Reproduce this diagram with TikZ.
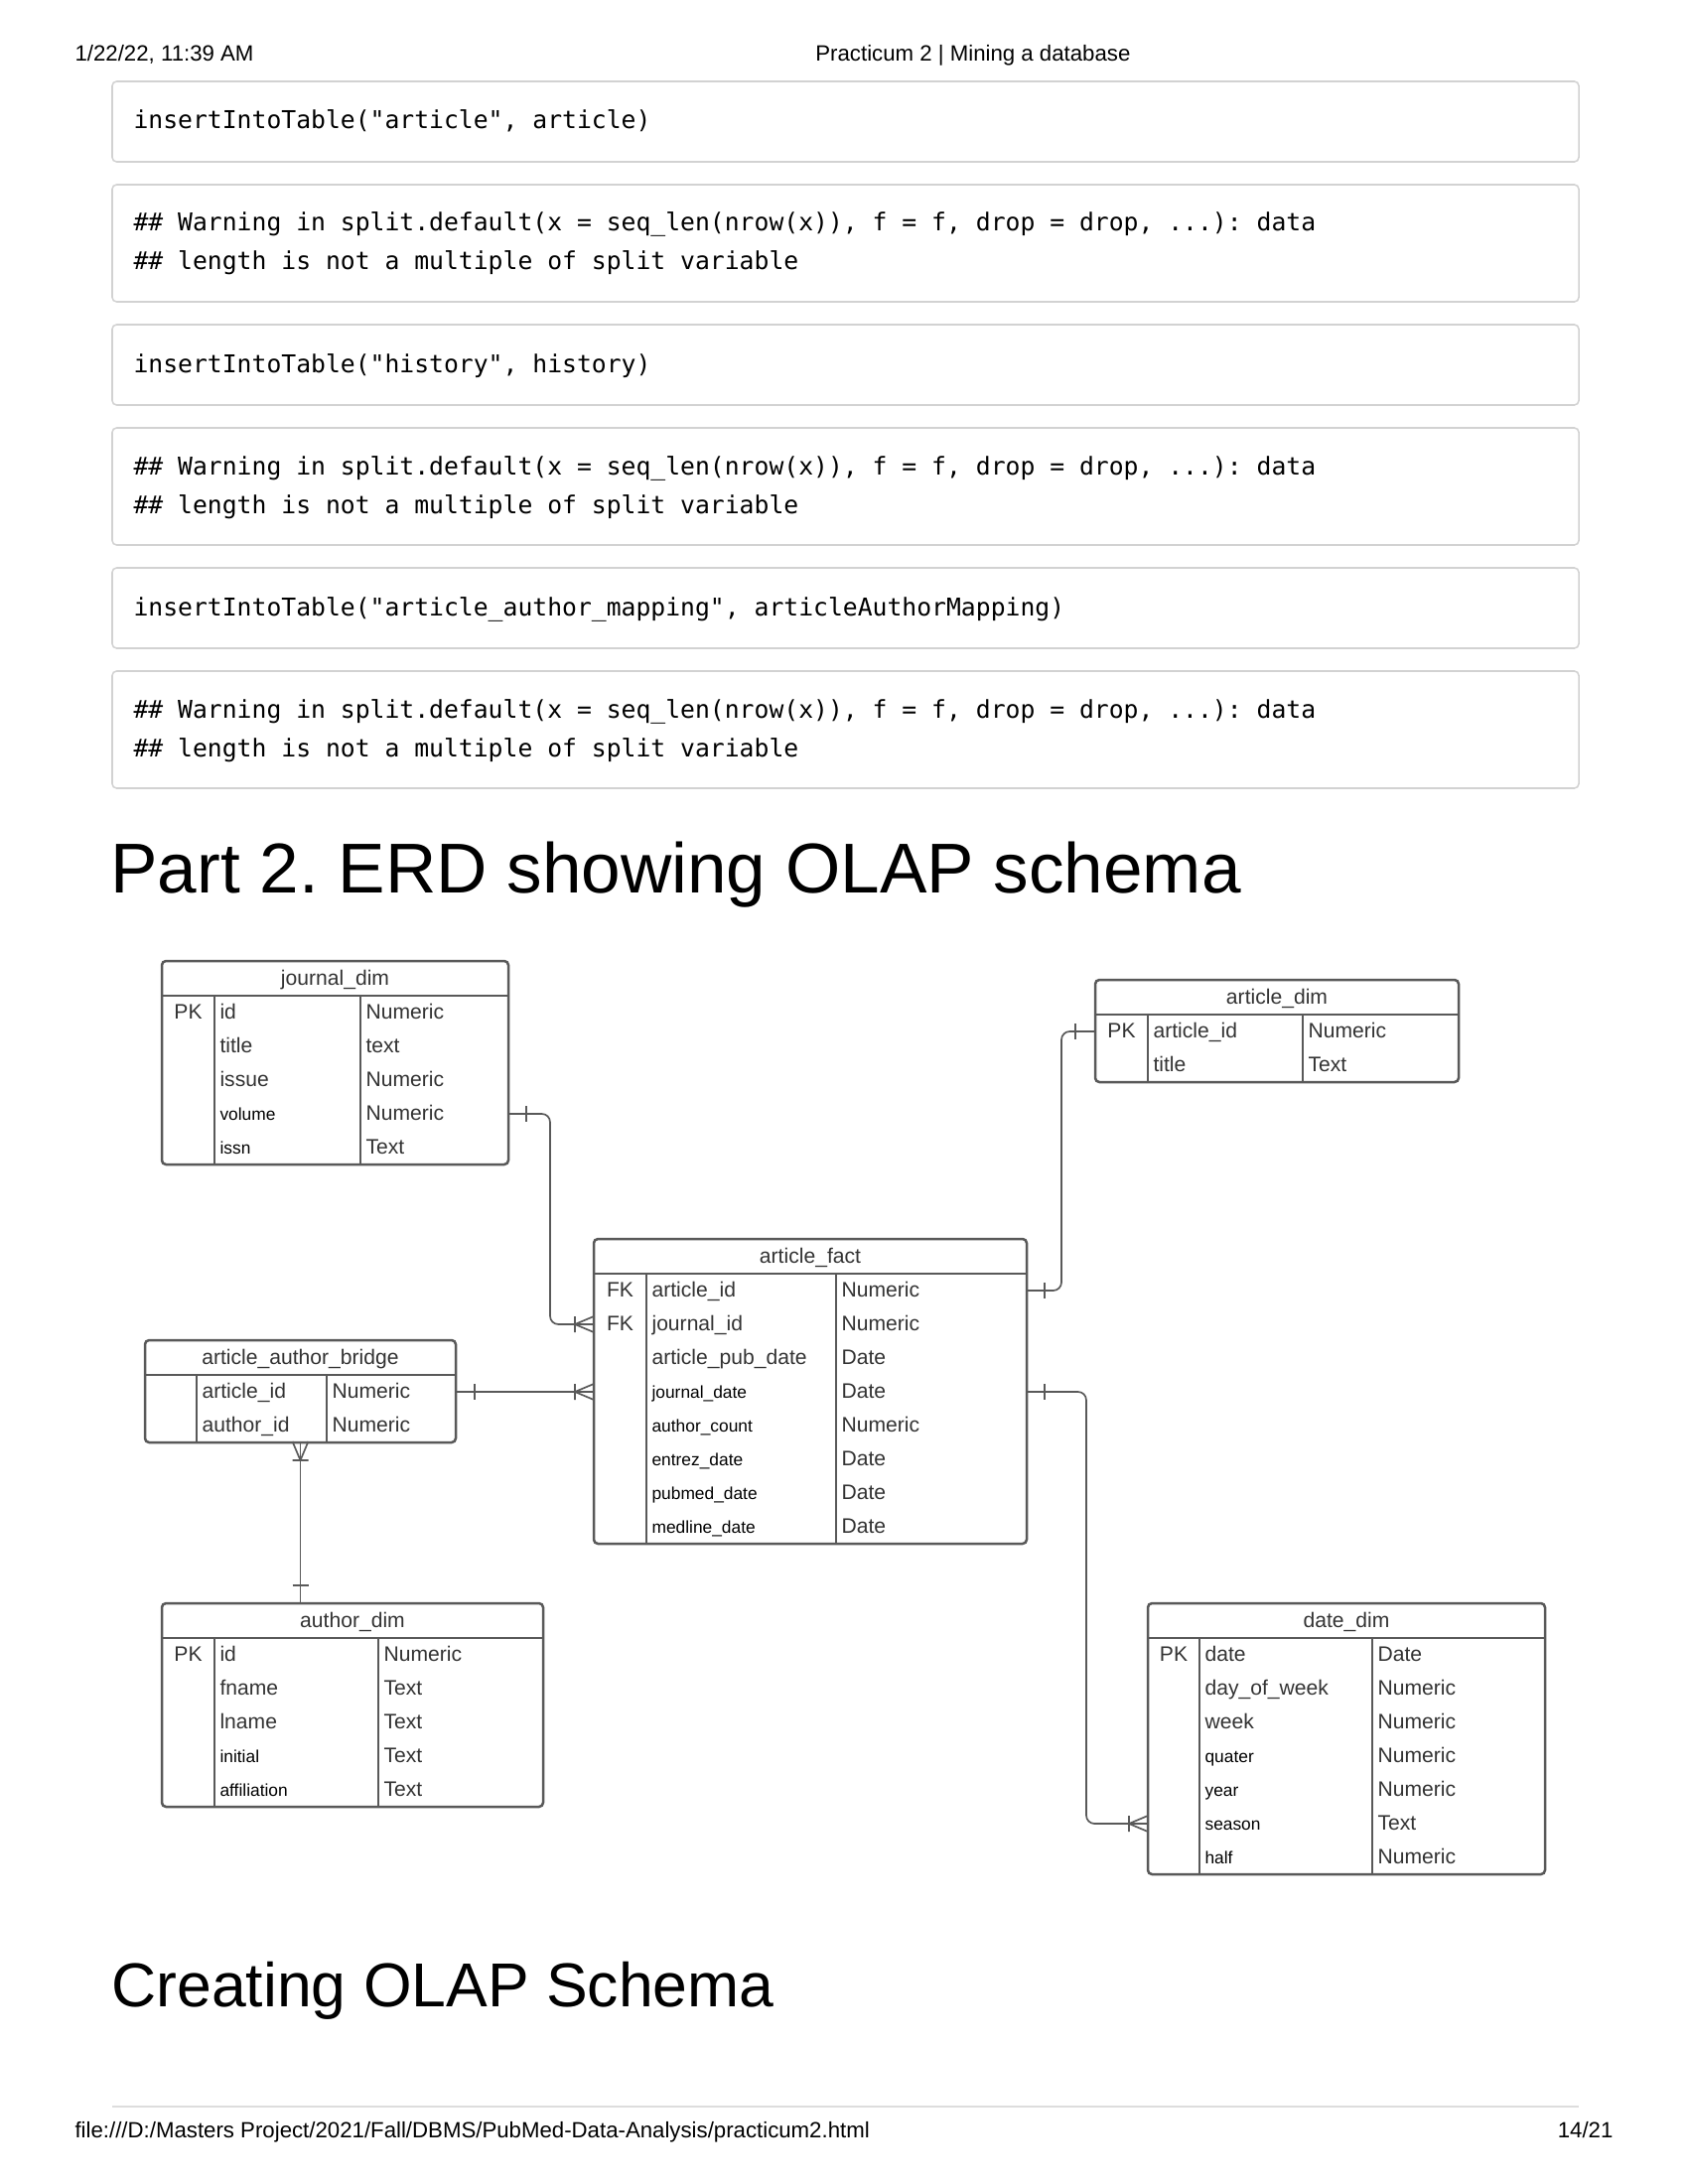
\documentclass[tikz,border=0pt]{standalone}
\usepackage{fontspec}
\setmainfont{Liberation Sans}
\newfontfamily\codefont{DejaVu Sans Mono}
\usetikzlibrary{calc}
\frenchspacing

\definecolor{erdline}{HTML}{595959}
\definecolor{erdtext}{HTML}{333333}
\definecolor{boxline}{HTML}{D2D2D2}
\definecolor{rulegray}{HTML}{DDDDDD}

\newcommand\fldn{\fontsize{7.6}{9}\selectfont\color{erdtext}}
\newcommand\flds{\fontsize{6.25}{7.5}\selectfont\color{black}}

\tikzset{
  tbl/.style={draw=erdline, line width=0.9pt},
  conn/.style={draw=erdline, line width=0.6pt},
  erdtxt/.style={inner sep=0pt, anchor=base west, font=\fldn},
  keytxt/.style={inner sep=0pt, anchor=base, font=\fldn},
  codebox/.style={draw=boxline, line width=0.55pt, rounded corners=1.6pt},
  codetxt/.style={inner sep=0pt, anchor=base west, font=\codefont\fontsize{8.9}{10}\selectfont},
  pagetxt/.style={inner sep=0pt, font=\fontsize{8}{10}\selectfont},
  onebar/.pic={\draw[conn] (0,-8) -- (0,8);},
  crowfoot/.pic={\draw[conn] (0,-8) -- (0,8) (19,-8) -- (0,0) -- (19,8);},
}

% #1 name, #2-#5 x of left, key|field, field|type, right, #6 top, #7 rows, #8 title, #9 rows
\newcommand\erdtable[9]{%
  \pgfmathsetmacro\tblbot{#6+35+34*#7}
  \draw[tbl, rounded corners=1.5pt] (#2,#6) rectangle (#5,\tblbot);
  \draw[tbl] (#2,#6+35) -- (#5,#6+35);
  \draw[tbl] (#3,#6+35) -- (#3,\tblbot) (#4,#6+35) -- (#4,\tblbot);
  \node[keytxt] (#1title) at ({(#2+#5)/2},#6+24) {#8};
  \coordinate (#1top) at ({(#2+#5)/2},#6);
  \coordinate (#1bot) at ({(#2+#5)/2},\tblbot);
  \foreach \ky/\fd/\ty/\fz [count=\i] in {#9} {
    \pgfmathsetmacro\rowy{#6+35+17+34*(\i-1)}
    \coordinate (#1\i w) at (#2,\rowy);
    \coordinate (#1\i e) at (#5,\rowy);
    \node[keytxt] (#1\i k) at ({(#2+#3)/2},\rowy+6.5) {\ky};
    \node[erdtxt] (#1\i f) at (#3+5,\rowy+6) {\fz\fd};
    \node[erdtxt] (#1\i t) at (#4+5,\rowy+6.5) {\ty};
  }
}

\begin{document}
\begin{tikzpicture}[x=0.36pt, y=-0.36pt]
  \useasboundingbox[fill=white] (0,0) rectangle (1700,2200);

  % page header and footer
  \node[pagetxt, anchor=base west] (date) at (75,62) {1/22/22, 11:39 AM};
  \node[pagetxt, anchor=base east] (doctitle) at (1139,62) {Practicum 2 | Mining a database};
  \draw[rulegray, line width=0.5pt] (113,2122) -- (1590,2122);
  \node[pagetxt, anchor=base west] (path) at (75,2153) {file:///D:/Masters Project/2021/Fall/DBMS/PubMed-Data-Analysis/practicum2.html};
  \node[pagetxt, anchor=base east] (pageno) at (1625,2153) {14/21};

  % code chunks
  \foreach \bt/\bh in {82/81, 186/118, 327/81, 431/118, 572/81, 676/118}
    \draw[codebox] (113,\bt) rectangle (1590,\bt+\bh);
  \node[codetxt] (code1) at (134,130) {insertIntoTable("article", article)};
  \node[codetxt] (warn1a) at (134,233) {\#\# Warning in split.default(x = seq\_len(nrow(x)), f = f, drop = drop, ...): data};
  \node[codetxt] (warn1b) at (134,272) {\#\# length is not a multiple of split variable};
  \node[codetxt] (code2) at (134,375) {insertIntoTable("history", history)};
  \node[codetxt] (warn2a) at (134,478) {\#\# Warning in split.default(x = seq\_len(nrow(x)), f = f, drop = drop, ...): data};
  \node[codetxt] (warn2b) at (134,517) {\#\# length is not a multiple of split variable};
  \node[codetxt] (code3) at (134,620) {insertIntoTable("article\_author\_mapping", articleAuthorMapping)};
  \node[codetxt] (warn3a) at (134,723) {\#\# Warning in split.default(x = seq\_len(nrow(x)), f = f, drop = drop, ...): data};
  \node[codetxt] (warn3b) at (134,762) {\#\# length is not a multiple of split variable};

  \node[inner sep=0pt, anchor=base west, font=\fontsize{25.6}{30}\selectfont] (part2) at (111,899) {Part 2. ERD showing OLAP schema};
  \node[inner sep=0pt, anchor=base west, font=\fontsize{22.5}{27}\selectfont] (creating) at (112,2021) {Creating OLAP Schema};

  % tables
  \erdtable{jd}{163}{216}{363}{512}{968}{5}{journal\_dim}{PK/id/Numeric/\fldn, /title/text/\fldn, /issue/Numeric/\fldn, /volume/Numeric/\flds, /issn/Text/\flds}
  \erdtable{ad}{1103}{1156}{1312}{1469}{987}{2}{article\_dim}{PK/article\_id/Numeric/\fldn, /title/Text/\fldn}
  \erdtable{fact}{598}{651}{842}{1034}{1248}{8}{article\_fact}{FK/article\_id/Numeric/\fldn, FK/journal\_id/Numeric/\fldn, /article\_pub\_date/Date/\fldn, /journal\_date/Date/\flds, /author\_count/Numeric/\flds, /entrez\_date/Date/\flds, /pubmed\_date/Date/\flds, /medline\_date/Date/\flds}
  \erdtable{br}{146}{198}{329}{459}{1350}{2}{article\_author\_bridge}{/article\_id/Numeric/\fldn, /author\_id/Numeric/\fldn}
  \erdtable{au}{163}{216}{381}{547}{1615}{5}{author\_dim}{PK/id/Numeric/\fldn, /fname/Text/\fldn, /lname/Text/\fldn, /initial/Text/\flds, /affiliation/Text/\flds}
  \erdtable{dd}{1156}{1208}{1382}{1556}{1615}{7}{date\_dim}{PK/date/Date/\fldn, /day\_of\_week/Numeric/\fldn, /week/Numeric/\fldn, /quater/Numeric/\flds, /year/Numeric/\flds, /season/Text/\flds, /half/Numeric/\flds}

  % relationships
  \draw[conn, rounded corners=3pt] (jd4e) -- ++(42,0) |- (fact2w);
  \pic at ($(jd4e)+(18,0)$) {onebar};
  \pic at ($(fact2w)+(-19,0)$) {crowfoot};

  \draw[conn] (br1e) -- (fact4w);
  \pic at ($(br1e)+(19,0)$) {onebar};
  \pic at ($(fact4w)+(-19,0)$) {crowfoot};

  \draw[conn] (brbot) -- (brbot |- autop);
  \pic[rotate=90] at ($(brbot)+(0,18)$) {crowfoot};
  \pic[rotate=90] at ($(brbot |- autop)+(0,-18)$) {onebar};

  \draw[conn, rounded corners=3pt] (fact1e) -- ++(35,0) |- (ad1w);
  \pic at ($(fact1e)+(18,0)$) {onebar};
  \pic at ($(ad1w)+(-20,0)$) {onebar};

  \draw[conn, rounded corners=3pt] (fact4e) -- ++(60,0) |- (dd6w);
  \pic at ($(fact4e)+(18,0)$) {onebar};
  \pic at ($(dd6w)+(-19,0)$) {crowfoot};
\end{tikzpicture}
\end{document}
